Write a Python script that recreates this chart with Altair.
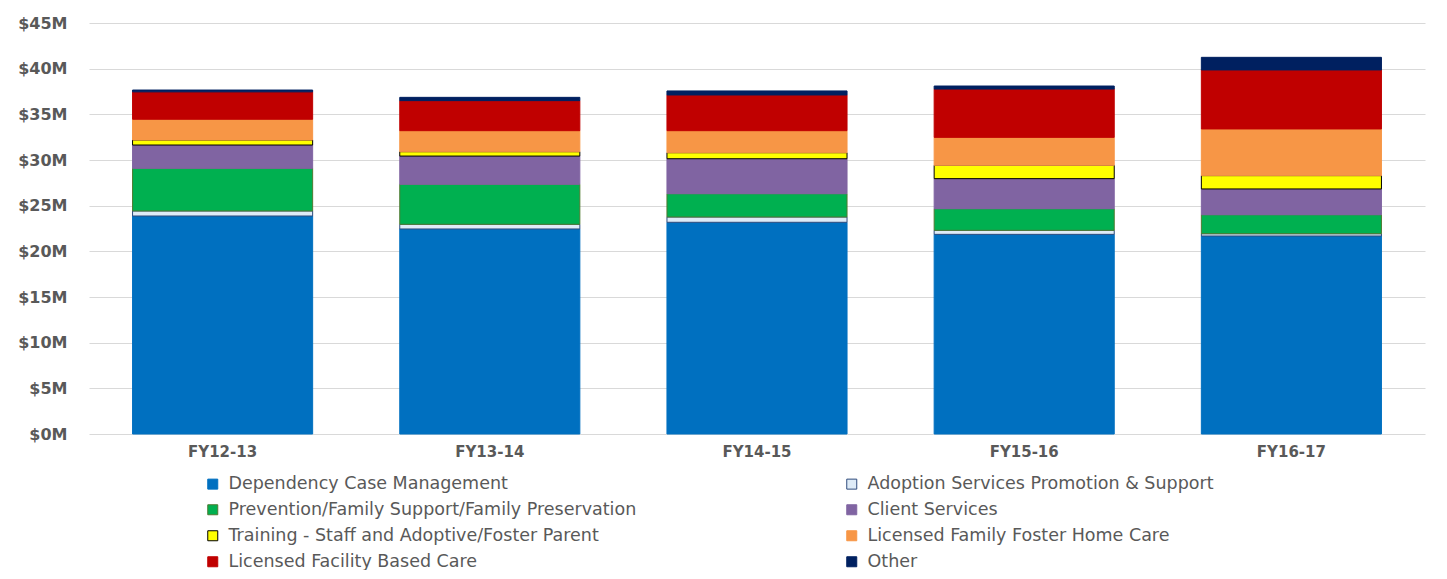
import altair as alt
import pandas as pd

years = ["FY12-13", "FY13-14", "FY14-15", "FY15-16", "FY16-17"]
series = [
    "Dependency Case Management",
    "Adoption Services Promotion & Support",
    "Prevention/Family Support/Family Preservation",
    "Client Services",
    "Training - Staff and Adoptive/Foster Parent",
    "Licensed Family Foster Home Care",
    "Licensed Facility Based Care",
    "Other",
]
# values in $ millions
dependency = [23.87, 22.45, 23.18, 21.86, 21.68]
adoption = [0.55, 0.51, 0.58, 0.44, 0.25]
prevention = [4.67, 4.38, 2.55, 2.37, 2.08]
client = [2.55, 3.09, 3.83, 3.29, 2.82]
training = [0.55, 0.48, 0.66, 1.46, 1.46]
foster = [2.27, 2.30, 2.41, 3.06, 5.11]
facility = [3.00, 3.29, 3.91, 5.29, 6.46]
other = [0.20, 0.36, 0.44, 0.33, 1.38]

fills = ["#0070C0", "#DEEBF7", "#00B050", "#8064A2", "#FFFF00", "#F79646", "#C00000", "#002060"]
strokes = ["#0070C0", "#2F4B7C", "#4E7A30", "#8064A2", "#000000", "#F79646", "#C00000", "#002060"]

all_vals = [dependency, adoption, prevention, client, training, foster, facility, other]
rows = []
for si, (name, vals) in enumerate(zip(series, all_vals)):
    for yr, v in zip(years, vals):
        rows.append({"year": yr, "series": name, "value": v, "idx": si})
df = pd.DataFrame(rows)

# legend fills column by column: reorder so rows read pairwise like the reference
leg_order = [0, 2, 4, 6, 1, 3, 5, 7]
leg_domain = [series[i] for i in leg_order]
leg_fills = [fills[i] for i in leg_order]
leg_strokes = [strokes[i] for i in leg_order]

font = "DejaVu Sans"
grey = "#595959"

chart = alt.Chart(df).mark_bar(strokeWidth=1).encode(
    x=alt.X("year:N", sort=years, title=None,
            scale=alt.Scale(paddingInner=0.326, paddingOuter=0.163),
            axis=alt.Axis(labelAngle=0, ticks=False, domain=False, labelFont=font,
                          labelFontWeight="bold", labelFontSize=15, labelColor=grey,
                          labelPadding=10)),
    y=alt.Y("value:Q", stack="zero", title=None,
            scale=alt.Scale(domain=[0, 45], nice=False),
            axis=alt.Axis(values=list(range(0, 50, 5)), labelExpr="'$' + datum.value + 'M'",
                          ticks=False, domain=False, labelFont=font, labelFontWeight="bold",
                          labelFontSize=16, labelColor=grey, labelPadding=22,
                          gridColor="#D9D9D9", gridWidth=1)),
    color=alt.Color("series:N", scale=alt.Scale(domain=leg_domain, range=leg_fills),
                    legend=alt.Legend(title=None, orient="none", legendX=115, legendY=452,
                                      columns=2, columnPadding=206, rowPadding=7,
                                      symbolType="square", symbolSize=100,
                                      symbolStrokeWidth=1,
                                      labelFont=font, labelFontSize=17.5, labelColor=grey,
                                      labelLimit=700, labelOffset=7)),
    stroke=alt.Stroke("series:N", scale=alt.Scale(domain=leg_domain, range=leg_strokes), legend=None),
    order=alt.Order("idx:Q", sort="ascending"),
).properties(
    width=1336, height=411,
    padding={"left": 81, "top": 15, "right": 10, "bottom": 136},
    autosize=alt.AutoSizeParams(type="none"),
).configure_view(stroke=None)

chart.save("out.html", embed_options={"renderer": "svg", "actions": False})
